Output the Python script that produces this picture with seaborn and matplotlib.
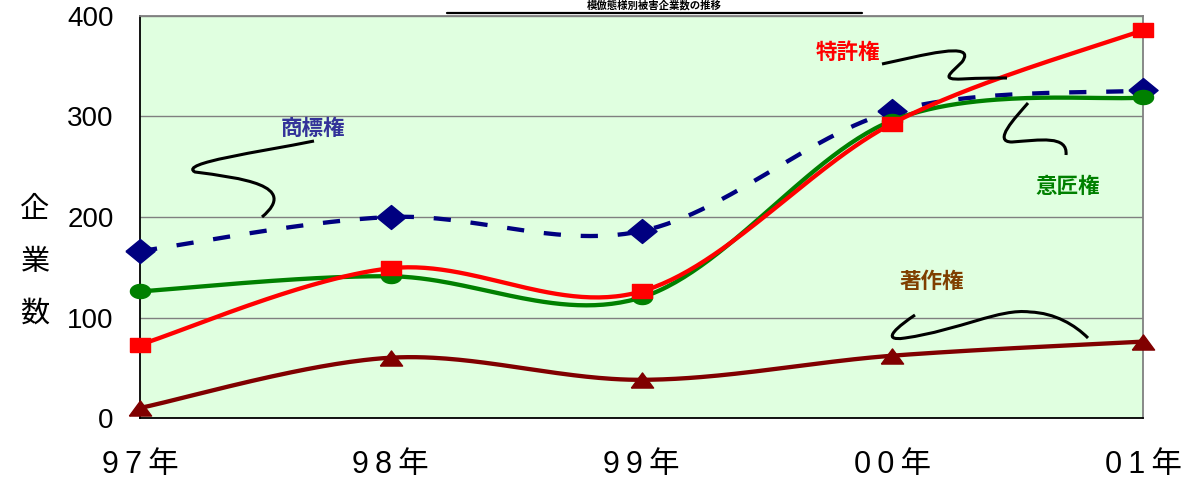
import numpy as np
import pandas as pd
import matplotlib
matplotlib.use("Agg")
import matplotlib.pyplot as plt
import seaborn as sns
from matplotlib.path import Path
from matplotlib.patches import PathPatch
from matplotlib.lines import Line2D

# ---------------- data ----------------
years = ["9\u20097\u2009年", "9\u20098\u2009年", "9\u20099\u2009年", "0\u20090\u2009年", "0\u20091\u2009年"]
trademark = [166, 200, 186, 305, 326]   # 商標権
design = [126, 141, 120, 296, 319]      # 意匠権
patent = [73, 149, 126, 293, 386]       # 特許権
copyright_ = [10, 60, 38, 62, 76]       # 著作権
y_ticks = [0, 100, 200, 300, 400]
title = "模倣態様別被害企業数の推移"
ylabel = "企業数"

# ---------------- style ----------------
sns.set_theme(style="white")
plt.rcParams["font.family"] = ["Liberation Sans", "Noto Sans CJK JP", "DejaVu Sans"]
CJK = ["Noto Sans CJK JP", "DejaVu Sans"]
MIX = ["Liberation Sans", "Noto Sans CJK JP", "DejaVu Sans"]

W, H = 1192, 480
fig = plt.figure(figsize=(W / 100, H / 100), dpi=100)
fig.patch.set_facecolor("white")
ax = fig.add_axes([140 / W, 1 - 418 / H, 1003 / W, 402 / H])
ax.set_facecolor("#E0FFE0")


def smooth(vals, n=60):
    """Excel-like smoothed line (Catmull-Rom Bezier) through the data points."""
    P = np.column_stack([np.arange(len(vals), dtype=float), np.asarray(vals, float)])
    ext = np.vstack([P[0], P, P[-1]])
    t = np.linspace(0, 1, n)[:, None]
    out = []
    for i in range(len(P) - 1):
        p0, p3 = P[i], P[i + 1]
        c1 = p0 + (ext[i + 2] - ext[i]) / 6
        c2 = p3 - (ext[i + 3] - ext[i + 1]) / 6
        seg = (1 - t) ** 3 * p0 + 3 * (1 - t) ** 2 * t * c1 + 3 * (1 - t) * t ** 2 * c2 + t ** 3 * p3
        out.append(seg if i == 0 else seg[1:])
    return np.vstack(out)


diamond = [(-1, 0), (0, 0.82), (1, 0), (0, -0.82), (-1, 0)]
square = [(-1, -0.78), (1, -0.78), (1, 0.78), (-1, 0.78), (-1, -0.78)]
th = np.linspace(0, 2 * np.pi, 40)
ellipse = list(zip(np.cos(th), 0.7 * np.sin(th)))
triangle = [(-1, -0.68), (1, -0.68), (0, 0.68), (-1, -0.68)]

series = [
    ("商標権", trademark, "#000080", (0, (4.0, 4.6)), diamond, 21, 3),
    ("意匠権", design, "#008000", "-", ellipse, 14.5, 4),
    ("特許権", patent, "#FF0000", "-", square, 13.8, 5),
    ("著作権", copyright_, "#800000", "-", triangle, 16, 6),
]

for name, vals, col, ls, mk, ms, z in series:
    s = smooth(vals)
    df = pd.DataFrame({"x": s[:, 0], "y": s[:, 1]})
    sns.lineplot(data=df, x="x", y="y", ax=ax, color=col, lw=3.1, linestyle=ls,
                 sort=False, estimator=None, zorder=z)
    ax.plot(np.arange(len(vals)), vals, ls="none", marker=mk, ms=ms, color=col,
            mec=col, clip_on=False, zorder=z + 0.5)

# ---------------- axes ----------------
ax.set_xlim(0, len(years) - 1)
ax.set_ylim(y_ticks[0], y_ticks[-1])
ax.set_xticks(range(len(years)))
ax.set_xticklabels(years, fontsize=22, family=MIX, color="black")
ax.set_yticks(y_ticks)
ax.set_yticklabels([str(v) for v in y_ticks], fontsize=20, color="black")
ax.tick_params(axis="x", direction="in", length=7, width=1, color="black", pad=23)
ax.tick_params(axis="y", direction="in", length=8, width=1, color="black", pad=19)
ax.set_xlabel("")
ax.set_ylabel("")
ax.yaxis.grid(True, color="#808080", lw=1.0)
ax.xaxis.grid(False)
for side in ["left", "bottom"]:
    ax.spines[side].set_color("black")
    ax.spines[side].set_linewidth(1.3)
for side in ["top", "right"]:
    ax.spines[side].set_color("#808080")
    ax.spines[side].set_linewidth(1.3)
ax.set_axisbelow(True)

# y label (vertical stacked)
fig.text(35 / W, 1 - 262 / H, "\n".join(ylabel), fontsize=21, family=CJK,
         ha="center", va="center", linespacing=1.95, color="black")

# title (cropped at top in the original; kept small so it stays inside the picture)
fig.text(654 / W, 1 - 0.5 / H, title, fontsize=7.5, family=CJK, fontweight="bold",
         ha="center", va="top", color="black")
fig.add_artist(Line2D([447 / W, 862 / W], [1 - 13 / H, 1 - 13 / H], color="black",
                      lw=1.6, transform=fig.transFigure))

# series labels
labels = [
    ("商標権", 313, 128, "#333399"),
    ("特許権", 848, 52, "#FF0000"),
    ("意匠権", 1068, 186, "#008000"),
    ("著作権", 932, 281, "#7F3F00"),
]
for txt, px, py, col in labels:
    fig.text(px / W, 1 - py / H, txt, fontsize=15.5, family=CJK, fontweight="bold",
             color=col, ha="center", va="center", zorder=10)

# squiggle connectors (pixel-space Bezier curves)
squiggles = [
    [(314, 141), (260, 152), (178, 163), (195, 172), (240, 178), (300, 185), (262, 217)],
    [(882, 64), (920, 56), (978, 40), (962, 62), (950, 74), (940, 80), (962, 79),
     (980, 78), (995, 78), (1007, 78)],
    [(1028, 103), (1015, 118), (992, 142), (1012, 142), (1040, 140), (1068, 135), (1066, 155)],
    [(915, 315), (900, 325), (878, 342), (905, 338), (960, 330), (1000, 308), (1030, 312),
     (1055, 313), (1075, 325), (1088, 338)],
]
for pts in squiggles:
    verts = [(x / W, 1 - y / H) for x, y in pts]
    codes = [Path.MOVETO] + [Path.CURVE4] * (len(verts) - 1)
    fig.add_artist(PathPatch(Path(verts, codes), fill=False, lw=2.2, color="black",
                             transform=fig.transFigure, capstyle="butt", zorder=9))

fig.savefig("out.png", dpi=100, facecolor="white")
